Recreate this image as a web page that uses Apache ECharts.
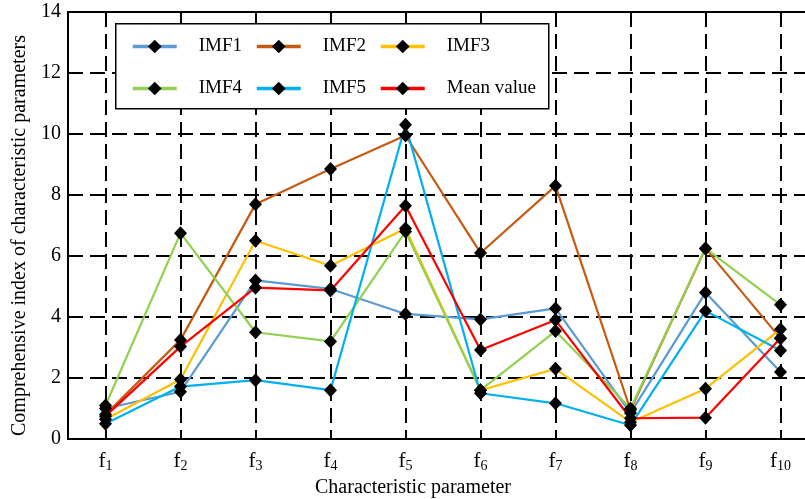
<!DOCTYPE html>
<html>
<head>
<meta charset="utf-8">
<script src="https://cdn.jsdelivr.net/npm/echarts@6/dist/echarts.min.js"></script>
<style>html,body{margin:0;padding:0;background:#fff}#c{width:805px;height:499px}</style>
</head>
<body>
<div id="c"></div>
<script>
var categories = ['1','2','3','4','5','6','7','8','9','10'];
var imf1 = [1.0, 1.55, 5.2, 4.92, 4.1, 3.92, 4.28, 0.85, 4.8, 2.2];
var imf2 = [0.8, 3.25, 7.7, 8.85, 9.95, 6.1, 8.3, 0.95, 6.25, 3.3];
var imf3 = [0.65, 1.95, 6.5, 5.68, 6.9, 1.6, 2.3, 0.55, 1.65, 3.6];
var imf4 = [1.1, 6.75, 3.5, 3.2, 6.8, 1.6, 3.54, 1.0, 6.25, 4.4];
var imf5 = [0.5, 1.72, 1.93, 1.6, 10.3, 1.5, 1.17, 0.45, 4.2, 2.9];
var meanValue = [0.75, 3.03, 4.96, 4.87, 7.65, 2.92, 3.9, 0.68, 0.7, 3.3];
var seriesNames = ['IMF1','IMF2','IMF3','IMF4','IMF5','Mean value'];
var seriesData = [imf1, imf2, imf3, imf4, imf5, meanValue];
var colors = ['#5B9BD5','#C55A11','#FFC000','#92D050','#00B0F0','#FF0000'];
var yTicks = [0,2,4,6,8,10,12,14];

var FONT = "'Liberation Serif','Times New Roman',serif";
var chart = echarts.init(document.getElementById('c'), null, {renderer:'canvas'});

var series = seriesNames.map(function(n, i){
  return {
    name: n, type: 'line', data: seriesData[i],
    symbol: 'diamond', symbolSize: [13, 14],
    itemStyle: {color: '#000'},
    lineStyle: {color: colors[i], width: 2.2},
    animation: false
  };
});

var legendPos = [
  {left:131, top:37}, {left:255, top:37}, {left:379, top:37},
  {left:131, top:79}, {left:255, top:79}, {left:379, top:79}
];
var legends = seriesNames.map(function(n, i){
  return {
    data: [n], left: legendPos[i].left, top: legendPos[i].top, padding: 0,
    itemWidth: 44, itemHeight: 17, selectedMode: false, z: 10,
    lineStyle: {width: 3.5},
    textStyle: {fontFamily: FONT, fontSize: 19, color: '#000', padding: [0,0,0,17]}
  };
});

chart.setOption({
  backgroundColor: '#fff',
  animation: false,
  grid: {left: 68, width: 750, top: 12, bottom: 60, show: true, borderColor: '#000', borderWidth: 2,
         containLabel: false, outerBoundsMode: 'none'},
  legend: legends,
  graphic: [{
    type: 'rect', left: 115, top: 23, z: 5,
    shape: {width: 433, height: 85},
    style: {fill: '#fff', stroke: '#000', lineWidth: 1.5}
  }],
  xAxis: {
    type: 'category', data: categories, boundaryGap: true,
    name: 'Characteristic parameter', nameLocation: 'middle', nameGap: 39,
    nameTextStyle: {fontFamily: FONT, fontSize: 20, color: '#000', padding: [0,60,0,0]},
    axisLine: {lineStyle: {color: '#000', width: 2}},
    axisTick: {show: true, inside: true, alignWithLabel: true, length: 5, lineStyle: {color: '#000'}},
    axisLabel: {
      margin: 10, color: '#000',
      formatter: function(v){ return '{a|f}{b|' + v + '}'; },
      rich: {
        a: {fontFamily: FONT, fontSize: 21, color: '#000'},
        b: {fontFamily: FONT, fontSize: 14, color: '#000', padding: [10,0,0,0]}
      }
    },
    splitLine: {show: true, alignWithLabel: true, lineStyle: {color: '#000', width: 2, type: [15, 7]}}
  },
  yAxis: {
    type: 'value', min: 0, max: 14, interval: 2,
    name: 'Comprehensive index of characteristic parameters', nameLocation: 'middle', nameGap: 28,
    nameTextStyle: {fontFamily: FONT, fontSize: 20, color: '#000', padding: [0,20,0,0]},
    axisLine: {show: true, lineStyle: {color: '#000', width: 2}},
    axisTick: {show: false},
    axisLabel: {margin: 7, fontFamily: FONT, fontSize: 20, color: '#000',
      formatter: function(v){ return yTicks.indexOf(v) >= 0 ? String(v) : ''; }},
    splitLine: {show: true, lineStyle: {color: '#000', width: 2, type: [15, 7]}}
  },
  series: series
});
</script>
</body>
</html>
